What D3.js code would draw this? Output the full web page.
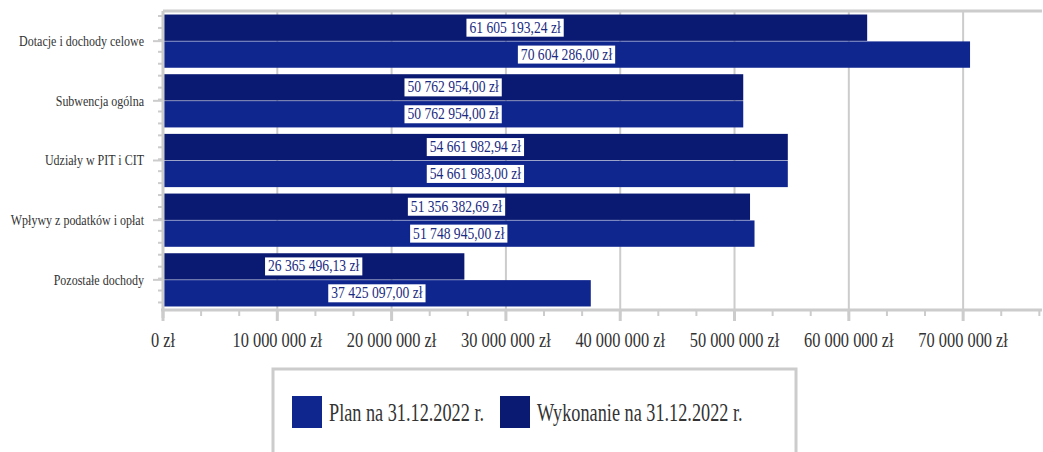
<!DOCTYPE html>
<html>
<head>
<meta charset="utf-8">
<style>
    body { margin: 0; background: #fff; }
</style>
</head>
<body>
<svg id="chart" width="1043" height="452" font-family="Liberation Serif"></svg>
<script src="https://d3js.org/d3.v7.min.js"></script>
<script>
    var categories = ["Dotacje i dochody celowe", "Subwencja ogólna", "Udziały w PIT i CIT",
        "Wpływy z podatków i opłat", "Pozostałe dochody"];
    var planValues = [70604286.00, 50762954.00, 54661983.00, 51748945.00, 37425097.00];
    var wykonanieValues = [61605193.24, 50762954.00, 54661982.94, 51356382.69, 26365496.13];
    var seriesNames = ["Plan na 31.12.2022 r.", "Wykonanie na 31.12.2022 r."];
    var tickValues = [0, 10000000, 20000000, 30000000, 40000000, 50000000, 60000000, 70000000];

    var colors = {plan: "#10268f", wyk: "#0a1a72"};
    var FONT = "Liberation Serif";

    var pl = d3.formatLocale({decimal: ",", thousands: "\u00a0", grouping: [3], currency: ["", " zł"]});
    var fmtVal = pl.format("$,.2f"),
        fmtTick = pl.format("$,.0f");

    var svg = d3.select("#chart"),
        margin = {left: 163, top: 11, right: 1, bottom: 142},
        width = 1043 - margin.left - margin.right,
        height = 452 - margin.top - margin.bottom;

    // squeeze text horizontally around its anchor
    function squeeze(sel, k) {
        sel.attr("transform", function () {
            var px = +d3.select(this).attr("x");
            return "translate(" + px + ",0) scale(" + k + ",1) translate(" + (-px) + ",0)";
        });
    }

    var rows = categories.map(function (c, i) {
        return {name: c, wyk: wykonanieValues[i], plan: planValues[i]};
    });

    var x = d3.scaleLinear().domain([0, 76900000]).range([margin.left, margin.left + width]);
    var y = d3.scaleBand().domain(categories).range([margin.top, margin.top + height])
        .paddingInner(0.09).paddingOuter(0.05);
    var y1 = d3.scaleBand().domain(["wyk", "plan"]).range([0, y.bandwidth()]).padding(0.02);

    // gridlines
    svg.append("g")
        .selectAll("line").data(tickValues.slice(1)).enter().append("line")
        .attr("x1", function (d) { return x(d); }).attr("x2", function (d) { return x(d); })
        .attr("y1", margin.top).attr("y2", margin.top + height)
        .attr("stroke", "#ccc").attr("stroke-width", 2);
    svg.append("line").attr("x1", margin.left).attr("x2", margin.left + width)
        .attr("y1", margin.top).attr("y2", margin.top)
        .attr("stroke", "#ccc").attr("stroke-width", 3);

    // bars
    var groups = svg.append("g").selectAll("g").data(rows).enter().append("g")
        .attr("transform", function (d) { return "translate(0," + y(d.name) + ")"; });

    var bars = groups.selectAll("g").data(function (d) {
        return [{key: "wyk", v: d.wyk}, {key: "plan", v: d.plan}];
    }).enter().append("g");

    bars.append("rect")
        .attr("x", x(0) + 1)
        .attr("y", function (d) { return y1(d.key); })
        .attr("width", function (d) { return x(d.v) - x(0) - 1; })
        .attr("height", y1.bandwidth())
        .attr("fill", function (d) { return colors[d.key]; });

    // value labels
    var kLab = 0.85;
    bars.each(function (d) {
        var g = d3.select(this);
        var cx = (x(0) + x(d.v)) / 2,
            cy = y1(d.key) + y1.bandwidth() / 2;
        var box = g.append("rect").attr("fill", "#fff")
            .attr("stroke", colors[d.key]).attr("stroke-width", 2);
        var t = g.append("text")
            .attr("x", cx).attr("y", cy + 5)
            .attr("text-anchor", "middle")
            .attr("font-family", FONT)
            .attr("font-size", 16)
            .attr("fill", "#1b2b82")
            .text(fmtVal(d.v));
        squeeze(t, kLab);
        var w = t.node().getComputedTextLength() * kLab + 8;
        box.attr("x", cx - w / 2).attr("y", cy - 10).attr("width", w).attr("height", 20);
    });

    // x axis
    var xAxis = svg.append("g").attr("transform", "translate(0," + (margin.top + height) + ")");
    xAxis.append("line").attr("x1", margin.left - 2).attr("x2", margin.left + width)
        .attr("stroke", "#ccc").attr("stroke-width", 3);
    var minor = d3.range(0, 76900000, 10000000 / 3);
    xAxis.selectAll(".minor").data(minor).enter().append("line")
        .attr("x1", function (d) { return x(d); }).attr("x2", function (d) { return x(d); })
        .attr("y1", 0).attr("y2", 6).attr("stroke", "#ccc").attr("stroke-width", 2);
    xAxis.selectAll(".major").data(tickValues).enter().append("line")
        .attr("x1", function (d) { return x(d); }).attr("x2", function (d) { return x(d); })
        .attr("y1", 0).attr("y2", 11).attr("stroke", "#ccc").attr("stroke-width", 3);
    xAxis.selectAll("text").data(tickValues).enter().append("text")
        .attr("x", function (d) { return x(d); }).attr("y", 37)
        .attr("text-anchor", "middle").attr("font-size", 20).attr("fill", "#333")
        .attr("font-family", FONT)
        .text(function (d) { return fmtTick(d); })
        .call(squeeze, 0.82);

    // y axis
    var yAxis = svg.append("g");
    yAxis.append("line").attr("x1", margin.left).attr("x2", margin.left)
        .attr("y1", margin.top).attr("y2", margin.top + height + 8)
        .attr("stroke", "#ccc").attr("stroke-width", 3);
    var yMinor = d3.range(0, 26).map(function (i) { return margin.top + y.step() * i / 5 + 5; })
        .filter(function (v) { return v < margin.top + height; });
    yAxis.selectAll(".minor").data(yMinor).enter().append("line")
        .attr("x1", margin.left - 5).attr("x2", margin.left)
        .attr("y1", function (d) { return d; }).attr("y2", function (d) { return d; })
        .attr("stroke", "#ccc").attr("stroke-width", 2);
    yAxis.selectAll(".major").data(categories).enter().append("line")
        .attr("x1", margin.left - 10).attr("x2", margin.left)
        .attr("y1", function (d) { return y(d) + y.bandwidth() / 2; })
        .attr("y2", function (d) { return y(d) + y.bandwidth() / 2; })
        .attr("stroke", "#ccc").attr("stroke-width", 2);
    yAxis.selectAll("text").data(categories).enter().append("text")
        .attr("x", 144).attr("y", function (d) { return y(d) + y.bandwidth() / 2 + 5; })
        .attr("text-anchor", "end").attr("font-size", 15).attr("fill", "#333")
        .attr("font-family", FONT)
        .text(function (d) { return d; })
        .call(squeeze, 0.8);

    // legend
    var legend = svg.append("g");
    legend.append("rect").attr("x", 273).attr("y", 369).attr("width", 523).attr("height", 100)
        .attr("fill", "#fff").attr("stroke", "#ccc").attr("stroke-width", 3);
    var legendItems = [
        {name: seriesNames[0], color: colors.plan, x: 292},
        {name: seriesNames[1], color: colors.wyk, x: 500}
    ];
    var li = legend.selectAll(".item").data(legendItems).enter().append("g");
    li.append("rect").attr("x", function (d) { return d.x; }).attr("y", 396)
        .attr("width", 30).attr("height", 32).attr("fill", function (d) { return d.color; });
    li.append("text")
        .attr("x", function (d) { return d.x + 37; }).attr("y", 421)
        .attr("font-size", 25).attr("fill", "#333")
        .attr("font-family", FONT)
        .text(function (d) { return d.name; })
        .call(squeeze, 0.73);
</script>
</body>
</html>
